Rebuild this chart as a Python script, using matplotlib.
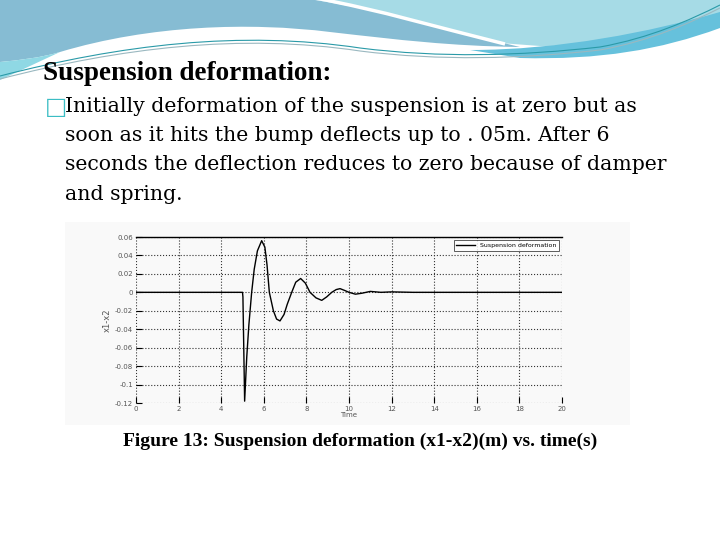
import matplotlib
matplotlib.use('Agg')
import matplotlib.pyplot as plt
from matplotlib.path import Path
from matplotlib.patches import PathPatch, Rectangle

# values
time_s = [0, 5.0, 5.02, 5.1, 5.2, 5.3, 5.43, 5.55, 5.7, 5.9, 6.05, 6.15, 6.26,
          6.45, 6.6, 6.76, 6.95, 7.1, 7.31, 7.5, 7.73, 7.95, 8.17, 8.45, 8.72,
          8.95, 9.19, 9.4, 9.58, 9.8, 10.0, 10.3, 10.6, 11.0, 11.5, 12.0, 13.0, 14.0, 20.0]
deform = [0, 0, -0.005, -0.118, -0.07, -0.035, 0.0, 0.025, 0.045, 0.056, 0.049, 0.03, 0.0,
          -0.02, -0.029, -0.031, -0.024, -0.013, 0.0, 0.011, 0.015, 0.010, 0.0, -0.006, -0.0087,
          -0.005, 0.0, 0.003, 0.004, 0.002, 0.0, -0.002, -0.001, 0.001, 0.0, 0.0005, 0.0, 0.0, 0.0]
xticks = [0, 2, 4, 6, 8, 10, 12, 14, 16, 18, 20]
yticks = [-0.12, -0.1, -0.08, -0.06, -0.04, -0.02, 0, 0.02, 0.04, 0.06]
ytick_labels = ['-0.12', '-0.1', '-0.08', '-0.06', '-0.04', '-0.02', '0', '0.02', '0.04', '0.06']

title = 'Suspension deformation:'
body = ['Initially deformation of the suspension is at zero but as',
        'soon as it hits the bump deflects up to . 05m. After 6',
        'seconds the deflection reduces to zero because of damper',
        'and spring.']
caption = 'Figure 13: Suspension deformation (x1-x2)(m) vs. time(s)'

fig = plt.figure(figsize=(7.2, 5.4), dpi=100)
fig.patch.set_facecolor('white')

# slide background, pixel coordinates
bg = fig.add_axes([0, 0, 1, 1], zorder=0)
bg.set_xlim(0, 720)
bg.set_ylim(540, 0)
bg.axis('off')

M, C, L, Z = Path.MOVETO, Path.CURVE4, Path.LINETO, Path.CLOSEPOLY

def shape(pts, codes, color):
    bg.add_patch(PathPatch(Path(pts, codes), facecolor=color, edgecolor='none'))

def curve(pts, codes, color, lw):
    bg.add_patch(PathPatch(Path(pts, codes), facecolor='none', edgecolor=color, lw=lw))

# light cyan top right
shape([(315, 0), (720, 0), (720, 15), (670, 35), (610, 46), (540, 46), (500, 43),
       (440, 28), (380, 10), (315, 0), (315, 0)],
      [M, L, L, C, C, C, L, C, C, C, Z], '#a6dbe6')
# steel blue top left
shape([(0, 0), (315, 0), (380, 10), (440, 28), (520, 47), (450, 46), (400, 40), (330, 32),
       (250, 22), (150, 25), (60, 52), (40, 58), (20, 60), (0, 62), (0, 0)],
      [M, L, C, C, C, C, C, C, C, C, C, C, C, C, Z], '#86bcd3')
# turquoise band at the right
shape([(470, 50), (560, 50), (650, 32), (720, 12), (720, 28), (660, 50), (600, 60), (520, 58),
       (470, 50)],
      [M, C, C, C, L, C, C, C, Z], '#66c1dc')
# cyan strip at the far left
shape([(0, 62), (20, 60), (40, 58), (60, 52), (0, 80), (0, 62)],
      [M, C, C, C, L, Z], '#8fd8e4')
# white streak
curve([(315, -2), (380, 10), (440, 28), (505, 44)], [M, C, C, C], 'white', 2.5)
# thin teal lines
for dy, col in [(0, '#2a9aa8'), (3, '#9ab8c0')]:
    curve([(0, 76 + dy), (120, 45 + dy), (240, 30 + dy), (360, 48 + dy),
           (440, 58 + dy), (520, 56 + dy), (600, 47 + dy),
           (650, 38 + dy), (690, 20 + dy), (720, 5 + dy)],
          [M, C, C, C, C, C, C, C, C, C], col, 0.8)
# scanned figure background
bg.add_patch(Rectangle((65, 222), 565, 203, facecolor='#f9f9f9', edgecolor='none'))

fig.text(43 / 720, 1 - 73 / 540, title, fontsize=19.5, fontweight='bold',
         family=['Liberation Serif', 'DejaVu Serif'], va='center', ha='left')
fig.text(45 / 720, 1 - 107 / 540, '\u25a1', fontsize=17, color='#3bbdc4',
         family=['DejaVu Sans'], va='center', ha='left')
for i, line in enumerate(body):
    fig.text(65 / 720, 1 - (107 + 29 * i) / 540, line, fontsize=14.7,
             family=['DejaVu Serif'], va='center', ha='left')
fig.text(360 / 720, 1 - 441 / 540, caption, fontsize=14, fontweight='bold',
         family=['Liberation Serif', 'DejaVu Serif'], va='center', ha='center')

ax = fig.add_axes([136 / 720, 1 - 403 / 540, 426 / 720, 166 / 540], zorder=1)
ax.set_facecolor('none')
ax.plot(time_s, deform, color='black', lw=1, label='Suspension deformation')
ax.set_xlim(0, 20)
ax.set_ylim(-0.12, 0.06)
ax.set_xticks(xticks)
ax.set_yticks(yticks)
ax.set_yticklabels(ytick_labels)
ax.tick_params(direction='in', length=4, labelsize=5, labelcolor='#555555', pad=2)
ax.grid(True, linestyle=':', color='#333333', lw=0.8)
for side in ['left', 'bottom', 'right']:
    ax.spines[side].set_visible(False)
ax.spines['top'].set_linewidth(1)
ax.set_xlabel('Time', fontsize=5, color='#555555', labelpad=0)
ax.set_ylabel('x1-x2', fontsize=6, color='#555555', labelpad=2)
leg = ax.legend(loc='upper right', fontsize=4.5, frameon=True, fancybox=False,
                borderaxespad=0.5, handlelength=3)
leg.get_frame().set_edgecolor('#333333')
leg.get_frame().set_linewidth(0.7)

fig.savefig('out.png', dpi=100)
